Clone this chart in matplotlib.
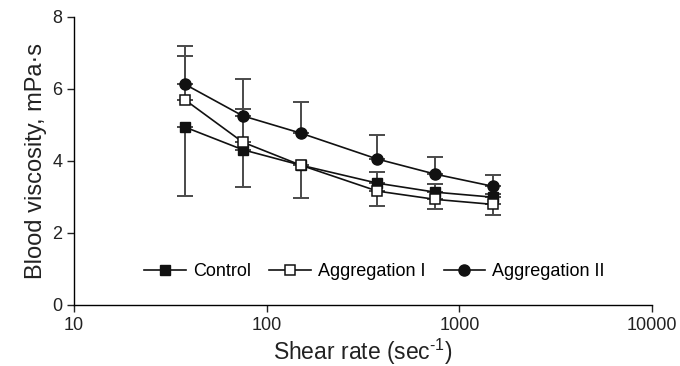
import matplotlib.pyplot as plt
import numpy as np

plt.rcParams['font.family'] = ['Liberation Sans', 'DejaVu Sans']
plt.rcParams['mathtext.fontset'] = 'custom'
plt.rcParams['mathtext.rm'] = 'Liberation Sans'
plt.rcParams['mathtext.it'] = 'Liberation Sans'

# shear rates (sec^-1)
shear = [37.5, 75, 150, 375, 750, 1500]

# mean viscosity (mPa·s)
control = [4.94, 4.31, 3.88, 3.38, 3.13, 2.99]
aggr1 = [5.70, 4.52, 3.88, 3.16, 2.93, 2.79]
aggr2 = [6.13, 5.25, 4.77, 4.05, 3.63, 3.29]

# one-sided SD bars as drawn in the figure (lower, upper)
control_lo = [1.92, 1.04, 0.91, 0, 0, 0]
control_hi = [0, 0, 0, 0.31, 0.22, 0.08]
aggr1_lo = [0, 0, 0, 0.40, 0.26, 0.28]
aggr1_hi = [1.22, 0.91, 0, 0, 0, 0]
aggr2_lo = [0, 0, 0, 0, 0, 0]
aggr2_hi = [1.06, 1.03, 0.87, 0.66, 0.48, 0.31]

fig = plt.figure(figsize=(6.8, 3.66), dpi=100)
ax = fig.add_axes([0.109, 0.167, 0.850, 0.787])

ecol = '#4a4a4a'
for y, lo, hi in [(control, control_lo, control_hi),
                  (aggr1, aggr1_lo, aggr1_hi),
                  (aggr2, aggr2_lo, aggr2_hi)]:
    ax.errorbar(shear, y, yerr=[lo, hi], fmt='none', ecolor=ecol,
                elinewidth=1.4, capsize=5.5, capthick=1.4, zorder=2)

ax.plot(shear, control, '-s', color='#111111', mfc='#111111', mec='#111111',
        ms=7.5, lw=1.2, label='Control', zorder=3)
ax.plot(shear, aggr1, '-s', color='#111111', mfc='white', mec='#111111',
        ms=7.5, mew=1.1, lw=1.2, label='Aggregation I', zorder=4)
ax.plot(shear, aggr2, '-o', color='#111111', mfc='#111111', mec='#111111',
        ms=8, lw=1.2, label='Aggregation II', zorder=3)

ax.set_xscale('log')
ax.set_xlim(10, 10000)
ax.set_ylim(0, 8)
ax.set_xticks([10, 100, 1000, 10000])
ax.set_xticklabels(['10', '100', '1000', '10000'])
ax.xaxis.set_minor_locator(plt.NullLocator())
ax.set_yticks([0, 2, 4, 6, 8])

for s in ['top', 'right']:
    ax.spines[s].set_visible(False)
for s in ['left', 'bottom']:
    ax.spines[s].set_linewidth(1.0)
ax.tick_params(axis='both', direction='out', length=5, width=1.0,
               labelsize=13, colors='#222222')

ax.set_xlabel('Shear rate (sec$^{\\text{-1}}$)', fontsize=16.5, color='#222222',
              labelpad=2)
ax.set_ylabel('Blood viscosity, mPa·s', fontsize=17, color='#222222')

ax.legend(loc='center', bbox_to_anchor=(0.52, 0.115), ncol=3, frameon=False,
          fontsize=13, handlelength=2.3, columnspacing=1.0, handletextpad=0.4)

fig.savefig('out.png', dpi=100)
